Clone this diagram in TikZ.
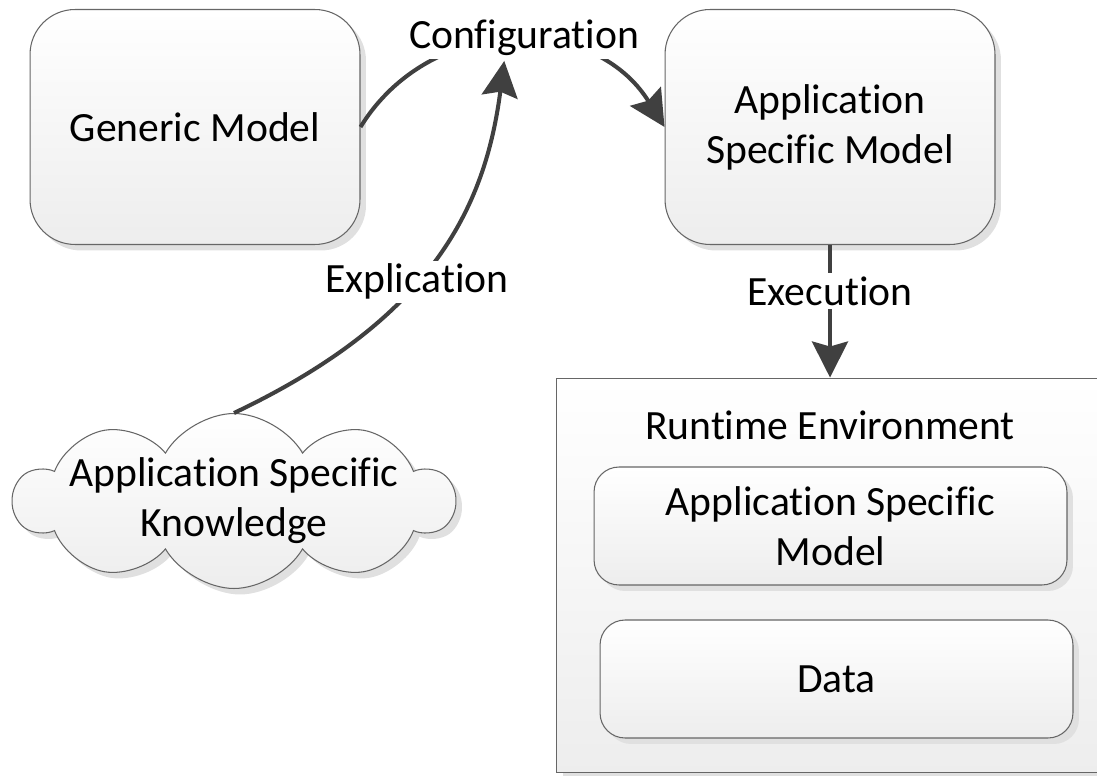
\documentclass[tikz,border=0pt]{standalone}
\usepackage{fontspec}
\setmainfont{Carlito}[Ligatures=NoCommon]
\usetikzlibrary{arrows.meta,positioning,shapes.symbols,shadows}
\tikzstyle{box}=[rectangle, rounded corners=0.9cm, draw=black!60, line width=0.6pt,
  top color=white, bottom color=black!7, align=center,
  drop shadow={shadow xshift=0.12cm, shadow yshift=-0.12cm, fill=black!12, opacity=1}]
\tikzstyle{flow}=[-{Stealth[length=0.72cm,width=0.72cm,inset=0.1cm]}, line width=2.3pt, draw=black!75]
\tikzstyle{lbl}=[fill=white, inner sep=2pt]

\begin{document}
\begin{tikzpicture}[x=0.02cm, y=-0.02cm,
  font=\fontsize{23.7}{28.5}\selectfont,
  model/.style={box, minimum width=6.6cm, minimum height=4.7cm},
  inner/.style={box, rounded corners=0.5cm, minimum width=9.46cm, minimum height=2.36cm}]
\useasboundingbox (0,0) rectangle (1097,776);
\node[model] (gm) at (195,127) {Generic Model};
\node[model] (asm) at (830,127) {Application\\Specific Model};
\node[box, rounded corners=0pt, minimum width=10.9cm, minimum height=7.9cm] (rt) at (829,575.5) {};
\node (rtt) at (830,425) {Runtime Environment};
\node[inner] (rasm) at (830.5,526) {Application Specific\\Model};
\node[inner] (data) at (836.5,679) {Data};
\node[cloud, cloud puffs=10, cloud puff arc=120, cloud ignores aspect, inner sep=0pt,
  minimum width=8.8cm, minimum height=3.5cm, draw=black!60, line width=0.6pt,
  top color=white, bottom color=black!7,
  drop shadow={shadow xshift=0.12cm, shadow yshift=-0.12cm, fill=black!12, opacity=1},
  label={[align=center]center:Application Specific\\Knowledge}]
  (akn) at (234,501) {};
% connectors
\draw[flow] (gm.east) .. controls (430,14) and (593,12) .. node[lbl,xshift=0.25cm,yshift=0.08cm] (conf) {Configuration} (asm.west);
\draw[flow] (akn.north) .. controls (430,320) and (485,210) .. node[lbl,pos=0.43] {Explication} ([xshift=-0.4cm]conf.south);
\draw[flow] (asm.south) -- node[lbl,pos=0.35] {Execution} (asm.south |- rt.north);
\end{tikzpicture}
\end{document}
